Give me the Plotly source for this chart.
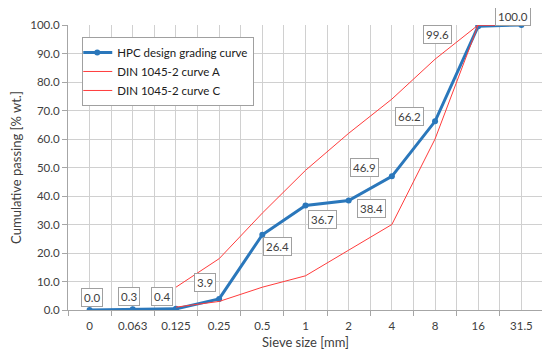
import plotly.graph_objects as go

sieve_sizes = ["0", "0.063", "0.125", "0.25", "0.5", "1", "2", "4", "8", "16", "31.5"]
hpc_curve = [0.0, 0.3, 0.4, 3.9, 26.4, 36.7, 38.4, 46.9, 66.2, 99.6, 100.0]
din_curve_a = [None, None, 1, 3, 8, 12, 21, 30, 60, 100, 100]
din_curve_c = [None, None, 8, 18, 34, 49, 62, 74, 88, 100, 100]
y_ticks = [0, 10, 20, 30, 40, 50, 60, 70, 80, 90, 100]

# label offsets (style only): (xshift, yshift) in px
label_offsets = [(2, 13), (-4, 13), (-14, 12), (-14, 16), (15, -12), (17, -14),
                 (23, -8), (-27, 9), (-26, 5), (-41, -8), (-8, 9)]

xpos = list(range(len(sieve_sizes)))
FONT = "Lato, 'Open Sans', sans-serif"
BLUE = "#2a77bb"
RED = "#ff3c3c"
GRID = "#d0d0d0"
TXT = "#404040"

fig = go.Figure()
fig.add_trace(go.Scatter(x=xpos, y=hpc_curve, mode="lines+markers",
                         name="HPC design grading curve",
                         line=dict(color=BLUE, width=3),
                         marker=dict(color=BLUE, size=6)))
fig.add_trace(go.Scatter(x=xpos, y=din_curve_a, mode="lines",
                         name="DIN 1045-2 curve A",
                         line=dict(color=RED, width=1)))
fig.add_trace(go.Scatter(x=xpos, y=din_curve_c, mode="lines",
                         name="DIN 1045-2 curve C",
                         line=dict(color=RED, width=1)))

for i, v in enumerate(hpc_curve):
    dx, dy = label_offsets[i]
    fig.add_annotation(x=xpos[i], y=v, xref="x", yref="y", text=f"{v:.1f}",
                       showarrow=False, xshift=dx, yshift=dy,
                       bgcolor="white", bordercolor="#a0a0a0", borderwidth=1,
                       borderpad=2, font=dict(family=FONT, size=11.5, color=TXT))

boundaries = [i - 0.5 for i in range(len(sieve_sizes) + 1)]

fig.update_layout(
    width=542, height=350,
    margin=dict(l=60, r=7, t=17, b=48),
    paper_bgcolor="white", plot_bgcolor="white",
    font=dict(family=FONT, size=12, color=TXT),
    showlegend=True,
    legend=dict(x=0.030, y=0.958, xanchor="left", yanchor="top",
                bgcolor="white", bordercolor="#a0a0a0", borderwidth=1,
                font=dict(family=FONT, size=11.5, color="#202020"),
                tracegroupgap=0, itemwidth=30, indentation=-6),
    xaxis=dict(range=[-0.5, len(sieve_sizes) - 0.5],
               tickvals=xpos, ticktext=sieve_sizes,
               ticks="outside", ticklen=5, tickcolor="rgba(0,0,0,0)",
               showgrid=True, gridcolor=GRID, gridwidth=1,
               showline=True, linecolor="#a6a6a6", linewidth=1,
               zeroline=False,
               minor=dict(tickvals=boundaries, ticks="outside", ticklen=5,
                          tickcolor="#a6a6a6", showgrid=True, gridcolor=GRID),
               title=dict(text="Sieve size [mm]", standoff=7,
                          font=dict(family=FONT, size=13, color=TXT)),
               tickfont=dict(family=FONT, size=11.5, color=TXT)),
    yaxis=dict(range=[0, 100], tickvals=y_ticks, tickformat=".1f",
               showgrid=True, gridcolor=GRID, gridwidth=1,
               showline=True, linecolor="#a6a6a6", linewidth=1,
               ticks="outside", ticklen=5, tickcolor="#a6a6a6",
               zeroline=False,
               title=dict(text="Cumulative passing [% wt.]", standoff=5,
                          font=dict(family=FONT, size=13, color=TXT)),
               tickfont=dict(family=FONT, size=11.5, color=TXT)),
)

fig.write_html("out.html")
